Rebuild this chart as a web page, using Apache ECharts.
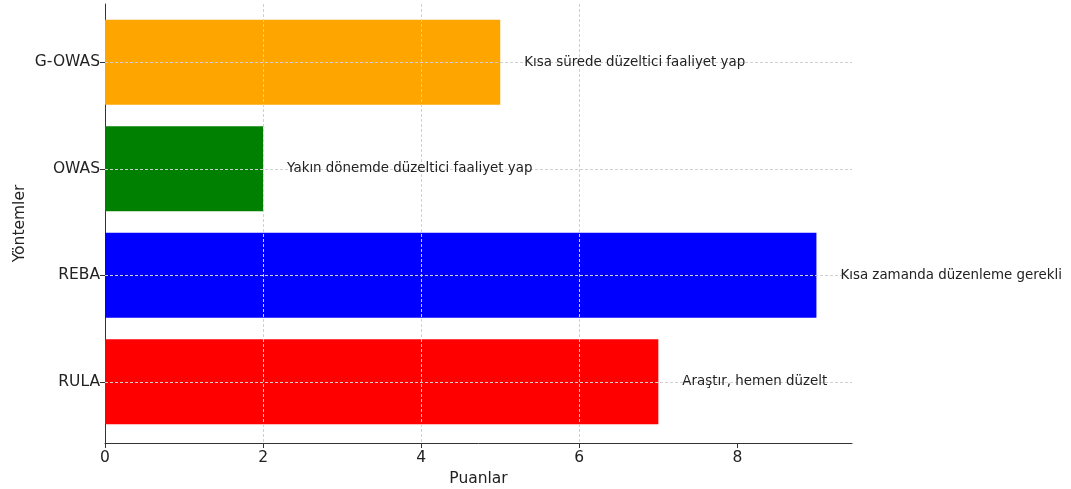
<!DOCTYPE html>
<html>
<head>
<meta charset="utf-8">
<script src="https://cdn.jsdelivr.net/npm/echarts@6/dist/echarts.min.js"></script>
<style>html,body{margin:0;padding:0;background:#fff}#c{width:1071px;height:489px}</style>
</head>
<body>
<div id="c"></div>
<script>
const categories = ['RULA', 'REBA', 'OWAS', 'G-OWAS'];
const values = [7, 9, 2, 5];
const barColors = ['#FF0000', '#0000FF', '#008000', '#FFA500'];
const notes = ['Araştır, hemen düzelt', 'Kısa zamanda düzenleme gerekli', 'Yakın dönemde düzeltici faaliyet yap', 'Kısa sürede düzeltici faaliyet yap'];
const xTicks = [0, 2, 4, 6, 8];
const xMax = 9.45;

const FONT = 'DejaVu Sans';
const TXT = '#222222';
const AX = '#333333';
const GRIDC = '#d0d0d0';

const chart = echarts.init(document.getElementById('c'), null, {renderer: 'canvas'});
chart.setOption({
  backgroundColor: '#ffffff',
  animation: false,
  textStyle: {fontFamily: FONT},
  grid: [
    {left: 105, right: 219, top: 4, bottom: 46, containLabel: false, outerBoundsMode: 'none'},
    {left: 105, right: 219, top: 9, bottom: 54, containLabel: false, outerBoundsMode: 'none'}
  ],
  xAxis: [
    {
      gridIndex: 0, type: 'value', min: 0, max: xMax, z: 10,
      name: 'Puanlar', nameLocation: 'middle', nameGap: 27,
      nameTextStyle: {fontFamily: FONT, fontSize: 15.5, color: TXT},
      axisLine: {show: true, lineStyle: {color: AX, width: 1}},
      axisTick: {show: true, length: 5, lineStyle: {color: AX}, customValues: xTicks},
      axisLabel: {fontFamily: FONT, fontSize: 15.5, color: TXT, margin: 7, customValues: xTicks},
      splitLine: {show: true, showMinLine: false, showMaxLine: false, lineStyle: {color: GRIDC, type: [3, 2], width: 1}}
    },
    {
      gridIndex: 1, type: 'value', min: 0, max: xMax, show: false,
      splitLine: {show: false}
    }
  ],
  yAxis: [
    {
      gridIndex: 0, type: 'value', min: 0, max: 1,
      name: 'Yöntemler', nameLocation: 'middle', nameGap: 77, nameRotate: 90,
      nameTextStyle: {fontFamily: FONT, fontSize: 15.5, color: TXT},
      axisLine: {show: true, lineStyle: {color: AX, width: 1}},
      axisTick: {show: false}, axisLabel: {show: false}, splitLine: {show: false}
    },
    {
      gridIndex: 1, type: 'category', data: categories,
      axisLine: {show: false},
      axisTick: {show: true, alignWithLabel: true, length: 5, lineStyle: {color: AX}},
      axisLabel: {fontFamily: FONT, fontSize: 15.5, color: TXT, margin: 5},
      splitLine: {show: false}
    }
  ],
  series: [
    {
      type: 'bar', xAxisIndex: 1, yAxisIndex: 1, barWidth: '80%', barGap: '-100%', z: 2,
      data: values.map((v, i) => ({value: v, itemStyle: {color: barColors[i]}})),
      markLine: {
        silent: true, symbol: 'none', z: 5,
        label: {show: false},
        lineStyle: {color: GRIDC, type: [3, 2], width: 1},
        data: categories.map(c => ({yAxis: c}))
      }
    },
    {
      type: 'bar', xAxisIndex: 1, yAxisIndex: 1, barWidth: '80%', barGap: '-100%', z: 20,
      silent: true,
      itemStyle: {color: 'rgba(0,0,0,0)'},
      data: values,
      label: {
        show: true, position: 'right', distance: 24,
        fontFamily: FONT, fontSize: 13.4, color: TXT,
        formatter: p => notes[p.dataIndex]
      }
    }
  ]
});
</script>
</body>
</html>
